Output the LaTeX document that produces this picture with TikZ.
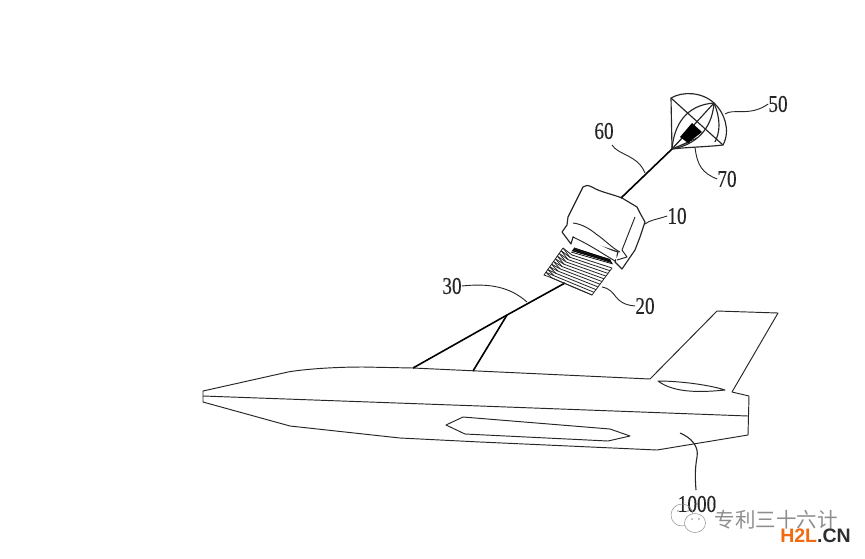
\documentclass[tikz,border=0pt]{standalone}
\usepackage{fontspec}
\setmainfont{Liberation Serif}
\newfontfamily\cjk{Noto Sans CJK SC}
\newfontfamily\wm{Liberation Sans}
\definecolor{ink}{HTML}{262626}
\definecolor{wmgray}{HTML}{8E8E8E}
\definecolor{hor}{HTML}{F26A10}
\definecolor{hdk}{HTML}{2E2E2E}
\tikzset{
  x=1pt,y=-1pt,
  outl/.style={draw=ink,line width=0.95pt,line join=round},
  heavy/.style={draw=ink,line width=1.15pt,line join=round},
  cable/.style={draw=black,line width=1.6pt},
  thinln/.style={draw=ink,line width=0.8pt},
  leader/.style={draw=ink,line width=0.9pt},
  lab/.style={font=\fontsize{24}{24}\selectfont\addfontfeature{FakeStretch=0.8,FakeBold=0.25},text=ink,inner sep=0pt},
}
\begin{document}
\begin{tikzpicture}
\useasboundingbox (0,0) rectangle (865,558);
\fill[white] (0,0) rectangle (865,558);
% aircraft
\draw[outl] (203,391) -- (288,372) .. controls (305,369) and (335,367) .. (363,367) -- (413,368) -- (650,379) -- (717,311) -- (778,313) -- (732,392) -- (749,396) -- (748,435) -- (657,450) -- (480,442) -- (400,438) -- (290,426) -- (203,402) -- cycle;
\draw[outl] (203,396) -- (480,406) -- (748,416);
\draw[outl] (446,425) -- (463,417) -- (610,429) -- (630,436) -- (608,441) -- (465,434) -- cycle;
\draw[outl] (658,381) .. controls (680,381) and (710,385) .. (725,390) .. controls (705,392) and (675,394) .. (658,381) -- cycle;
% tow lines
\coordinate (tow1) at (413,368);
\coordinate (tow2) at (473,371);
\coordinate (jun) at (507,315);
\coordinate (drum) at (565,283);
\draw[cable] (tow1) -- (jun) -- (drum);
\draw[cable] (tow2) -- (jun);
% drum (20): back edge, front face, threads
\foreach \t in {0,0.1,...,1.01}{
  \draw[thinln] ({572-20*\t},{255+23*\t}) -- ({612-20*\t},{268+27*\t});
}
\foreach \t in {0,0.1,...,0.95}{
  \draw[thinln] ({563-19*\t},{248+27*\t}) -- ({572-20*\t},{255+23*\t});
  \draw[thinln] ({563-19*\t},{248+27*\t}) -- ({572-20*(\t+0.1)},{255+23*(\t+0.1)});
}
\draw[thinln] (563,248) -- (544,275) -- (552,278) -- (592,295) -- (612,268);
% dark thread wedge
\fill[black!85] (574,248) -- (610,259) -- (612,263) -- (600,259) -- (572,251) -- cycle;
\foreach \i in {0,...,3}{
  \draw[draw=black,line width=0.7pt] ({571+\i*1},{252+\i*-1.4}) -- ({613-\i*1},{264-\i*1.4});
}
% winch box (10)
\draw[heavy,fill=white] (583,187) .. controls (585,185) and (588,185) .. (592,187) .. controls (600,192) and (612,194) .. (622,198) -- (637,207) -- (640,213) -- (645,222) -- (640,237) -- (635,250) -- (622,269) -- (615,262) -- (618,252) -- (573,237) -- (571,244) -- (562,232) -- (567,225) -- (568,217) -- cycle;
\fill[white] (574,238) -- (617,260) -- (616,253) -- (574,232) -- cycle;
\draw[outl] (573,237) .. controls (590,245) and (600,252) .. (615,261);
\draw[outl] (573,223) .. controls (582,224) and (590,229) .. (596,234) .. controls (605,240) and (612,248) .. (620,252);
\draw[outl] (635,217) -- (622,250) -- (627,257) -- (617,260);
% cable 60
\coordinate (cab1) at (621,198);
\coordinate (chute) at (672,149);
\draw[cable] (cab1) -- (chute);
% parachute 50
\draw[heavy] (chute) -- (671,98) .. controls (683,91) and (702,92) .. (714,103) .. controls (724,112) and (731,130) .. (723,145) .. controls (705,147) and (690,147) .. (chute);
\draw[heavy] (671,98) -- (723,145);
\draw[heavy] (chute) -- (714,103);
\draw[heavy] (chute) .. controls (674,125) and (686,105) .. (714,103);
\draw[heavy] (chute) .. controls (695,145) and (712,130) .. (714,103);
\draw[heavy] (714,103) .. controls (721,120) and (720,132) .. (715,142);
\draw[thinln] (chute) -- (684,136);
\draw[thinln] (chute) -- (690,142);
\draw[thinln] (chute) -- (697,138);
\fill[black] (680,137) -- (692,123) -- (702,132) -- (688,143) -- cycle;
% leaders and labels
\node[lab] (n50) at (778,104) {50};
\node[lab] (n60) at (604,131) {60};
\node[lab] (n70) at (727,179) {70};
\node[lab] (n10) at (677,216) {10};
\node[lab] (n20) at (645,306) {20};
\node[lab] (n30) at (452,286) {30};
\node[lab] (n1000) at (697,504) {1000};
\coordinate (l50) at (725,114);
\coordinate (l60) at (645,173);
\coordinate (l70) at (695,147);
\coordinate (l10) at (645,224);
\coordinate (l20) at (602,287);
\coordinate (l30) at (527,302);
\coordinate (l1000) at (680,433);
\draw[leader] (l50) .. controls (733,108) and (750,117) .. (n50.west);
\draw[leader] (612,145) .. controls (618,155) and (638,155) .. (l60);
\draw[leader] (l70) .. controls (697,165) and (702,173) .. (n70.west);
\draw[leader] (l10) .. controls (650,220) and (655,220) .. (n10.west);
\draw[leader] (l20) .. controls (618,290) and (612,304) .. (n20.west);
\draw[leader] (n30.east) .. controls (490,283) and (510,287) .. (l30);
\draw[leader,line width=1.1pt] (l1000) .. controls (692,438) and (699,447) .. (697,457) .. controls (695,468) and (695,478) .. (696,490);
% watermark
\draw[wmgray,line width=0.5pt] (682,515) circle (11);
\draw[wmgray,line width=0.5pt,fill=white] (695,523) ellipse (10.5 and 9.5);
\fill[wmgray] (678,511) circle (0.9) (688,511) circle (0.9) (692,519) circle (0.8) (699,519) circle (0.8);
\node[font=\cjk\fontsize{20.5}{20.5}\selectfont,text=wmgray,inner sep=0pt] (wm) at (776,520) {专利三十六计};
\node[font=\wm\bfseries\fontsize{19.5}{19.5}\selectfont,inner sep=0pt] (h2l) at (815.5,535.5) {\textcolor{hor}{H2L}\textcolor{hdk}{.CN}};
\end{tikzpicture}
\end{document}
